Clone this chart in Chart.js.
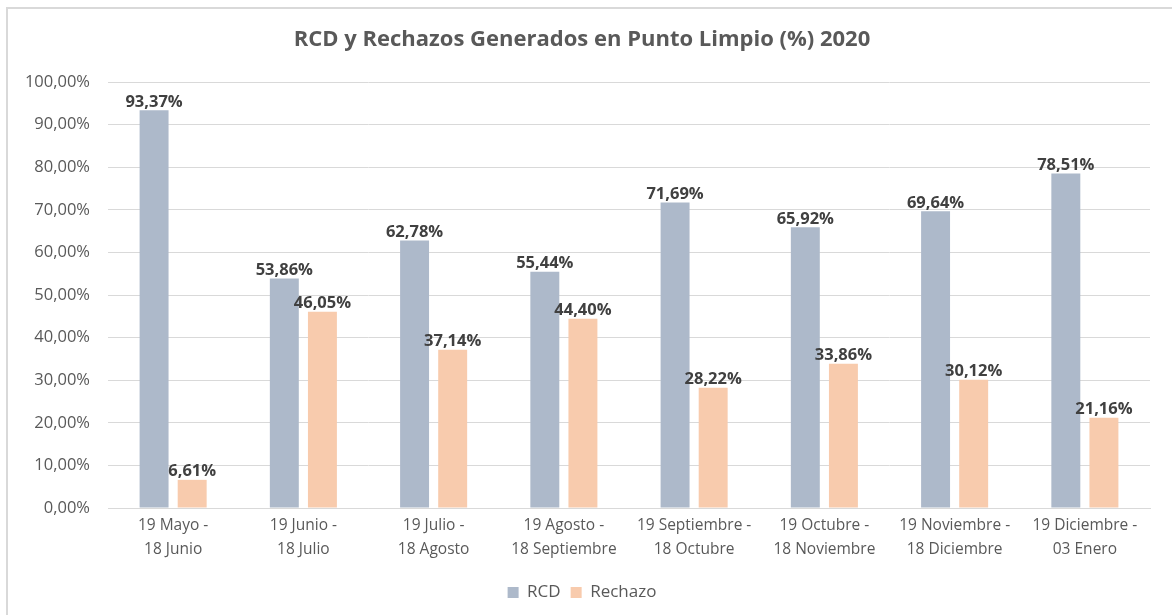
<!DOCTYPE html>
<html>
<head>
<meta charset="utf-8">
<script src="https://cdn.jsdelivr.net/npm/chart.js@4/dist/chart.umd.min.js"></script>
<style>
    body { margin: 0; background: #fff; }
    #wrap { width: 1172px; height: 615px; }
</style>
</head>
<body>
<div id="wrap"><canvas id="rcdChart" width="1172" height="615"></canvas></div>
<script>
const periodos = [
    ['19 Mayo -', '18 Junio'],
    ['19 Junio -', '18 Julio'],
    ['19 Julio -', '18 Agosto'],
    ['19 Agosto -', '18 Septiembre'],
    ['19 Septiembre -', '18 Octubre'],
    ['19 Octubre -', '18 Noviembre'],
    ['19 Noviembre -', '18 Diciembre'],
    ['19 Diciembre -', '03 Enero']
];
const rcd = [93.37, 53.86, 62.78, 55.44, 71.69, 65.92, 69.64, 78.51];
const rechazo = [6.61, 46.05, 37.14, 44.40, 28.22, 33.86, 30.12, 21.16];

const FONT = '"Open Sans", sans-serif';

function pct(v) {
    return v.toFixed(2).replace('.', ',') + '%';
}

// etiquetas encima de cada barra
const barLabels = {
    id: 'barLabels',
    afterDatasetsDraw(chart) {
        var ctx = chart.ctx;
        ctx.save();
        ctx.font = 'bold 16.5px ' + FONT;
        ctx.fillStyle = '#404040';
        ctx.textAlign = 'center';
        ctx.textBaseline = 'bottom';
        chart.data.datasets.forEach(function(ds, i) {
            chart.getDatasetMeta(i).data.forEach(function(bar, j) {
                ctx.fillText(pct(ds.data[j]), bar.x, bar.y);
            });
        });
        ctx.restore();
    }
};

const frame = {
    id: 'frame',
    beforeDraw(chart) {
        var ctx = chart.ctx;
        ctx.save();
        ctx.strokeStyle = '#d9d9d9';
        ctx.lineWidth = 2;
        ctx.beginPath();
        ctx.moveTo(7, 615);
        ctx.lineTo(7, 8);
        ctx.lineTo(1172, 8);
        ctx.stroke();
        ctx.restore();
    }
};

var ctx = document.getElementById('rcdChart').getContext('2d');
var rcdChart = new Chart(ctx, {
    type: 'bar',
    data: {
        labels: periodos,
        datasets: [{
            label: 'RCD',
            backgroundColor: '#adb9ca',
            data: rcd
        }, {
            label: 'Rechazo',
            backgroundColor: '#f8cbad',
            data: rechazo
        }]
    },
    options: {
        responsive: false,
        animation: false,
        categoryPercentage: 0.585,
        barPercentage: 0.76,
        layout: { padding: { left: 14, right: 22, top: 0, bottom: 4 } },
        scales: {
            x: {
                grid: { display: false, drawTicks: false },
                border: { color: '#d9d9d9' },
                ticks: {
                    color: '#595959',
                    padding: 6,
                    maxRotation: 0,
                    font: { family: FONT, size: 15.5, lineHeight: 1.55 }
                },
                afterFit: function(scale) { scale.height = 66; }
            },
            y: {
                min: 0,
                max: 100,
                grid: { color: '#d9d9d9', drawTicks: false },
                border: { display: false },
                ticks: {
                    stepSize: 10,
                    color: '#595959',
                    padding: 18,
                    font: { family: FONT, size: 16.5 },
                    callback: function(v) { return pct(v); }
                },
                afterFit: function(scale) { scale.width = 94; }
            }
        },
        plugins: {
            title: {
                display: true,
                text: 'RCD y Rechazos Generados en Punto Limpio (%) 2020',
                color: '#595959',
                font: { family: FONT, size: 22, weight: 'bold', lineHeight: 1.2 },
                padding: { top: 27, bottom: 28.6 }
            },
            legend: {
                position: 'bottom',
                labels: {
                    color: '#595959',
                    boxWidth: 11,
                    boxHeight: 11,
                    padding: 10,
                    font: { family: FONT, size: 17 }
                }
            },
            tooltip: { enabled: false }
        }
    },
    plugins: [frame, barLabels]
});
</script>
</body>
</html>
